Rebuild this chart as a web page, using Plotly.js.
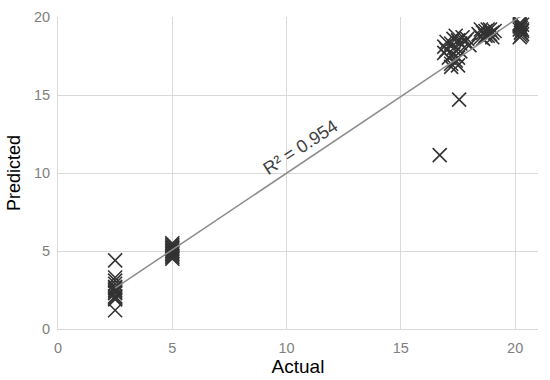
<!DOCTYPE html>
<html><head><meta charset="utf-8">
<script src="https://cdn.plot.ly/plotly-3.0.1.min.js"></script>
<style>html,body{margin:0;padding:0;background:#fff}#c{width:550px;height:380px}</style>
</head><body><div id="c"></div>
<script>
const actual = [
 2.5,2.5,2.5,2.5,2.5,2.5,2.5,2.5,2.5,2.5,2.5,2.5,2.5,
 5,5,5,5,5,5,5,5,5,5,5,5,
 16.7,16.9,17.0,17.1,17.2,17.2,17.3,17.3,17.4,17.4,17.5,17.5,17.6,17.6,17.7,17.8,17.3,17.5,16.9,17.55,17.9,18.0,17.0,17.2,
 18.4,18.5,18.6,18.6,18.7,18.8,18.8,18.9,19.0,19.0,19.1,18.5,18.7,18.9,
 20.2,20.2,20.2,20.25,20.25,20.3,20.3,20.2,20.25,20.3,20.2,20.3
];
const predicted = [
 4.4,3.3,3.1,2.9,2.7,2.6,2.5,2.4,2.3,2.1,2.0,1.9,1.2,
 5.5,5.4,5.3,5.2,5.1,5.0,4.9,4.8,4.7,4.6,4.5,5.0,
 11.15,18.1,17.9,17.4,18.3,17.0,18.6,17.6,18.8,17.2,18.5,16.9,18.3,17.8,18.7,18.4,18.0,17.4,17.7,14.7,18.6,18.2,18.4,16.8,
 18.9,18.7,19.0,18.6,19.1,18.8,19.2,18.9,19.0,18.7,19.1,19.2,18.8,19.2,
 19.6,19.4,19.2,19.0,18.8,19.5,19.1,18.7,19.3,18.9,19.5,19.2
];
const r2Label = "R\u00b2 = 0.954";
const xTicks = [0,5,10,15,20];
const yTicks = [0,5,10,15,20];

// least-squares trendline computed from the data
const n = actual.length;
let sx=0, sy=0, sxx=0, sxy=0;
for (let i=0;i<n;i++){sx+=actual[i];sy+=predicted[i];sxx+=actual[i]*actual[i];sxy+=actual[i]*predicted[i];}
const slope = (n*sxy - sx*sy)/(n*sxx - sx*sx);
const icpt = (sy - slope*sx)/n;
const xmin = Math.min(...actual), xmax = Math.max(...actual);
const lineX = [xmin, xmax];
const lineY = lineX.map(v => icpt + slope*v);

const traces = [
 {x: actual, y: predicted, type:'scatter', mode:'markers',
  marker:{symbol:'x-thin-open', size:14, line:{width:1.6, color:'#333333'}, color:'#333333'},
  hoverinfo:'skip', showlegend:false},
 {x: lineX, y: lineY, type:'scatter', mode:'lines',
  line:{color:'#8c8c8c', width:1.5}, hoverinfo:'skip', showlegend:false}
];
const layout = {
 width:550, height:380,
 margin:{l:58, r:12, t:17, b:51},
 paper_bgcolor:'#ffffff', plot_bgcolor:'#ffffff',
 font:{family:'Liberation Sans, Arial, sans-serif'},
 xaxis:{range:[0,21], tickvals:xTicks, ticktext:xTicks.map(String),
  showgrid:true, gridcolor:'#d9d9d9', gridwidth:1, zeroline:false,
  showline:true, linecolor:'#d9d9d9', linewidth:1, ticks:'',
  ticklabelstandoff:6,
  tickfont:{size:14.5, color:'#808080'},
  title:{text:'Actual', font:{size:19, color:'#000000'}, standoff:2}},
 yaxis:{range:[0,20], tickvals:yTicks, ticktext:yTicks.map(String),
  showgrid:true, gridcolor:'#d9d9d9', gridwidth:1, zeroline:false,
  showline:true, linecolor:'#d9d9d9', linewidth:1, ticks:'',
  ticklabelstandoff:4,
  tickfont:{size:14.5, color:'#808080'},
  title:{text:'Predicted', font:{size:18, color:'#000000'}, standoff:8}},
 annotations:[{x:10.63, y:11.67, xref:'x', yref:'y', text:r2Label, showarrow:false,
  textangle:-33, font:{size:18, color:'#404040'}}]
};
Plotly.newPlot('c', traces, layout, {displayModeBar:false, staticPlot:true});
</script></body></html>
